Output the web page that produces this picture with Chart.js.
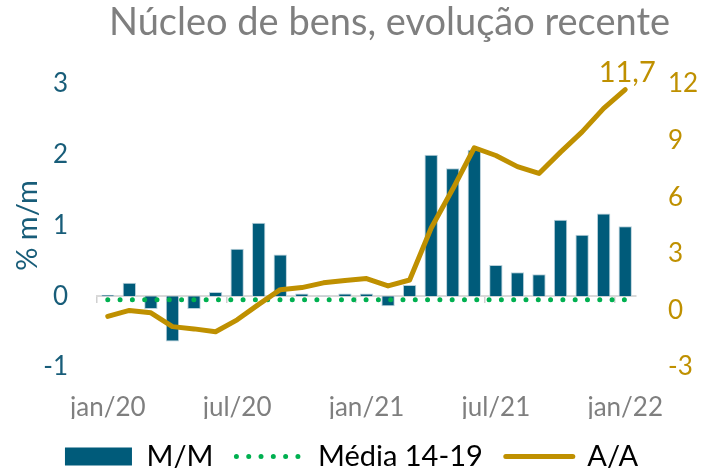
<!DOCTYPE html>
<html>
<head>
<meta charset="utf-8">
<script src="https://cdn.jsdelivr.net/npm/chart.js@4.4.1/dist/chart.umd.min.js"></script>
<style>
  html, body { margin: 0; padding: 0; background: #fff; }
</style>
</head>
<body>
<canvas id="myChart" width="703" height="471"></canvas>
<script>
// meses (jan/20 - jan/22)
var months = ["jan/20", "fev/20", "mar/20", "abr/20", "mai/20", "jun/20", "jul/20", "ago/20", "set/20", "out/20", "nov/20", "dez/20",
	"jan/21", "fev/21", "mar/21", "abr/21", "mai/21", "jun/21", "jul/21", "ago/21", "set/21", "out/21", "nov/21", "dez/21", "jan/22"];
var xTickLabels = ["jan/20", "jul/20", "jan/21", "jul/21", "jan/22"];

// variação mensal (% m/m) - eixo esquerdo
var mm = [0.02, 0.19, -0.18, -0.64, -0.18, 0.06, 0.67, 1.04, 0.59, 0.04, 0.01, 0.04,
	0.04, -0.14, 0.16, 2.00, 1.81, 2.07, 0.44, 0.34, 0.31, 1.08, 0.87, 1.17, 0.99];
// média 2014-19 - eixo esquerdo
var media = [-0.05, -0.05, -0.05, -0.05, -0.05, -0.05, -0.05, -0.05, -0.05, -0.05, -0.05, -0.05,
	-0.05, -0.05, -0.05, -0.05, -0.05, -0.05, -0.05, -0.05, -0.05, -0.05, -0.05, -0.05, -0.05];
// acumulado em 12 meses (A/A) - eixo direito
var aa = [-0.32, 0.00, -0.13, -0.86, -0.98, -1.13, -0.50, 0.32, 1.10, 1.21, 1.46, 1.59,
	1.69, 1.30, 1.61, 4.37, 6.43, 8.62, 8.21, 7.62, 7.26, 8.39, 9.46, 10.71, 11.7];

var leftMin = -1, leftMax = 3, leftStep = 1;
var rightMin = -3, rightMax = 12, rightStep = 3;

var titleText = "Núcleo de bens, evolução recente";

var barColor = "#005b7a";
var green = "#00b050";
var gold = "#bf9000";
var teal = "#185d79";
var gray = "#7f7f7f";

Chart.defaults.font.family = "Lato";

// título (um pouco deslocado à direita, como no original) e rótulo do último ponto A/A
var extraText = {
	id: "extraText",
	afterDraw: function(chart) {
		var c = chart.ctx;
		var area = chart.chartArea;
		c.save();
		c.font = "38px Lato";
		c.fillStyle = gray;
		c.textAlign = "center";
		c.textBaseline = "middle";
		c.fillText(titleText, (area.left + area.right) / 2 + 23, 23);

		var meta = chart.getDatasetMeta(2);
		var pt = meta.data[meta.data.length - 1];
		c.font = "29px Lato";
		c.fillStyle = gold;
		c.textBaseline = "alphabetic";
		c.fillText(aa[aa.length - 1].toFixed(1).replace(".", ","), pt.x + 2, pt.y - 8);
		c.restore();
	}
};

var ctx = document.getElementById("myChart");
var myChart = new Chart(ctx, {
	type: 'bar',
	data: {
		labels: months,
		datasets: [
			{
				type: 'bar',
				label: "M/M",
				data: mm,
				backgroundColor: barColor,
				borderColor: "#b9d0da",
				borderWidth: 1,
				barPercentage: 0.62,
				categoryPercentage: 1,
				yAxisID: 'y',
				order: 2
			},
			{
				type: 'line',
				label: "Média 14-19",
				data: media,
				borderColor: green,
				borderWidth: 5,
				borderDash: [0, 12.3],
				borderCapStyle: 'round',
				pointRadius: 0,
				fill: false,
				yAxisID: 'y',
				order: 1
			},
			{
				type: 'line',
				label: "A/A",
				data: aa,
				borderColor: gold,
				borderWidth: 5,
				borderCapStyle: 'round',
				borderJoinStyle: 'round',
				pointRadius: 0,
				tension: 0,
				fill: false,
				yAxisID: 'y1',
				order: 0
			}
		]
	},
	options: {
		responsive: false,
		maintainAspectRatio: false,
		animation: false,
		devicePixelRatio: 1,
		layout: { padding: { left: 0, right: 0, top: 84, bottom: -10 } },
		plugins: {
			title: { display: false },
			legend: {
				position: 'bottom',
				labels: {
					usePointStyle: true,
					pointStyleWidth: 67,
					boxHeight: 18,
					padding: 23,
					color: gray,
					font: { size: 29 },
					generateLabels: function(chart) {
						return [
							{ text: "M/M", pointStyle: 'rect', fillStyle: barColor, strokeStyle: barColor, lineWidth: 0, datasetIndex: 0 },
							{ text: "Média 14-19", pointStyle: 'line', fillStyle: green, strokeStyle: green, lineWidth: 5, lineDash: [0, 12.3], lineCap: 'round', datasetIndex: 1 },
							{ text: "A/A", pointStyle: 'line', fillStyle: gold, strokeStyle: gold, lineWidth: 5, lineCap: 'round', datasetIndex: 2 }
						];
					}
				}
			},
			tooltip: { enabled: false }
		},
		scales: {
			x: {
				grid: { display: false, drawTicks: false },
				border: { display: false },
				ticks: {
					autoSkip: false,
					maxRotation: 0,
					color: gray,
					font: { size: 26 },
					padding: 25,
					callback: function(v, i) {
						return xTickLabels.indexOf(months[i]) >= 0 ? months[i] : "";
					}
				},
				afterFit: function(s) { s.height = 52; }
			},
			x2: {
				type: 'category',
				axis: 'x',
				labels: months,
				position: { y: 0 },
				offset: true,
				grid: {
					display: true,
					drawOnChartArea: false,
					offset: true,
					tickLength: 6,
					lineWidth: 1.5,
					color: function(c) { return c.index % 6 === 0 ? "#d0d0d0" : "rgba(0,0,0,0)"; }
				},
				border: { display: true, color: "#d9d9d9", width: 2 },
				ticks: { display: false, autoSkip: false }
			},
			y: {
				position: 'left',
				min: leftMin,
				max: leftMax,
				ticks: { stepSize: leftStep, color: teal, font: { size: 26 }, padding: 29 },
				grid: { display: false, drawTicks: false },
				border: { display: false },
				title: { display: true, text: "% m/m", color: teal, font: { size: 29 }, padding: { top: 10, bottom: 0 } },
				afterFit: function(s) { s.width = 97; }
			},
			y1: {
				position: 'right',
				min: rightMin,
				max: rightMax,
				ticks: { stepSize: rightStep, color: gold, font: { size: 26 }, padding: 32 },
				grid: { display: false, drawTicks: false },
				border: { display: false },
				afterFit: function(s) { s.width = 67; }
			}
		}
	},
	plugins: [extraText]
});
</script>
</body>
</html>
